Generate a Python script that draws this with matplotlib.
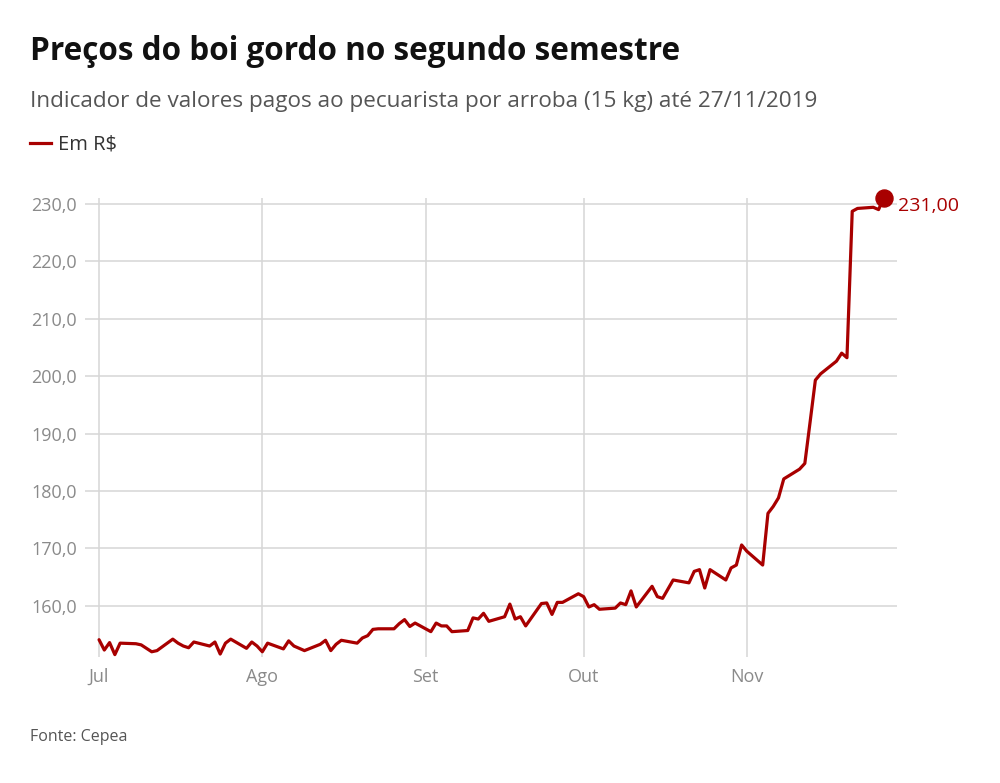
import numpy as np
import pandas as pd
import matplotlib
matplotlib.use('Agg')
import matplotlib.pyplot as plt
import matplotlib.dates as mdates

# Indicador do boi gordo (R$/arroba), dias úteis de 01/07 a 27/11/2019
jul = [154.1, 152.3, 153.6, 151.5, 153.5, 153.4, 153.2, 152.6, 152.0, 152.2,
       154.2, 153.5, 153.0, 152.7, 153.7, 153.0, 153.7, 151.6, 153.5, 154.2,
       152.6, 153.7, 153.0]
ago = [152.0, 153.5, 152.5, 153.9, 153.0, 152.6, 152.2, 153.3, 154.0, 152.2,
       153.3, 154.0, 153.5, 154.4, 154.8, 155.9, 156.0, 156.0, 156.9, 157.6,
       156.4, 157.0]
set_ = [155.5, 157.0, 156.5, 156.5, 155.5, 155.7, 157.9, 157.7, 158.7, 157.3,
        158.1, 160.3, 157.7, 158.1, 156.5, 160.4, 160.5, 158.5, 160.6, 160.6,
        162.1]
out = [161.6, 159.8, 160.2, 159.4, 159.6, 160.5, 160.2, 162.6, 159.8, 163.4,
       161.6, 161.3, 162.9, 164.5, 164.0, 166.0, 166.3, 163.1, 166.3, 164.5,
       166.6, 167.1, 170.6]
nov = [169.5, 167.1, 176.1, 177.3, 178.8, 182.1, 183.8, 184.8, 192.0, 199.3,
       200.4, 202.6, 204.0, 203.2, 228.7, 229.2, 229.4, 229.0, 231.0]

values = jul + ago + set_ + out + nov
dates = pd.bdate_range('2019-07-01', '2019-11-27')

month_ticks = ['2019-07-01', '2019-08-01', '2019-09-01', '2019-10-01', '2019-11-01']
month_labels = ['Jul', 'Ago', 'Set', 'Out', 'Nov']
y_ticks = [160, 170, 180, 190, 200, 210, 220, 230]

red = '#a80000'
grid = '#d6d6d6'
tick_col = '#8a8a8a'

plt.rcParams['font.family'] = ['Open Sans', 'DejaVu Sans']

fig = plt.figure(figsize=(10, 7.83), dpi=100)
ax = fig.add_axes([0.085, 0.161, 0.812, 0.586])

ax.plot(dates, values, color=red, lw=2.3, solid_joinstyle='round',
        solid_capstyle='round', zorder=3)
ax.scatter([dates[-1]], [values[-1]], s=150, color=red, zorder=4, clip_on=False)
ax.annotate('{:.2f}'.format(values[-1]).replace('.', ','),
            xy=(dates[-1], values[-1]), xytext=(10, -6), textcoords='offset points',
            color=red, fontsize=14, va='center', ha='left', annotation_clip=False)

ax.set_xlim(pd.Timestamp('2019-06-28 08:00'), pd.Timestamp('2019-11-29 12:00'))
ax.set_ylim(151.1, 231.0)

ax.set_xticks([pd.Timestamp(d) for d in month_ticks])
ax.set_xticklabels(month_labels)
ax.set_yticks(y_ticks)
ax.set_yticklabels(['{:.1f}'.format(v).replace('.', ',') for v in y_ticks])

ax.grid(True, color=grid, lw=1.1)
ax.set_axisbelow(True)
for s in ax.spines.values():
  s.set_visible(False)
ax.tick_params(length=0, labelsize=13, colors=tick_col)
ax.tick_params(axis='x', pad=8)
ax.tick_params(axis='y', pad=6)

# textos
fig.text(0.030, 0.934, 'Preços do boi gordo no segundo semestre', fontsize=22.7,
         fontweight='bold', color='#111111', va='center', ha='left')
fig.text(0.030, 0.871, 'Indicador de valores pagos ao pecuarista por arroba (15 kg) até 27/11/2019',
         fontsize=16.2, color='#555555', va='center', ha='left')
fig.lines.append(plt.Line2D([0.030, 0.051], [0.817, 0.817], color=red, lw=2.3,
                            transform=fig.transFigure))
fig.text(0.058, 0.815, 'Em R$', fontsize=14.5, color='#333333', va='center', ha='left')
fig.text(0.030, 0.059, 'Fonte: Cepea', fontsize=11.5, color='#555555', va='center', ha='left')

fig.savefig('out.png', dpi=100)
